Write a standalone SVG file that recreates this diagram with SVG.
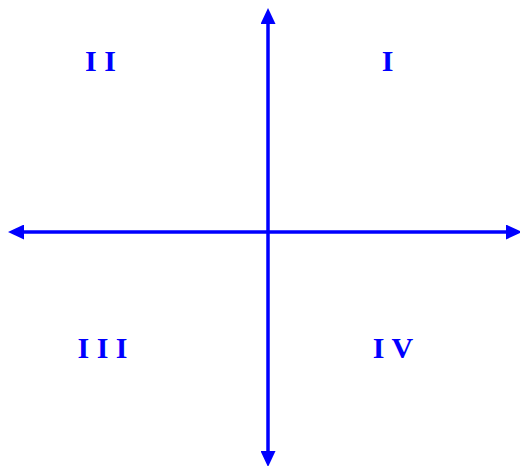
<svg xmlns="http://www.w3.org/2000/svg" width="520" height="466" viewBox="0 0 520 466">
<style>
.axis{stroke:#0000ff;stroke-width:3.5;fill:none}
.lbl{font-family:"Liberation Serif","Times New Roman",serif;font-weight:bold;font-size:30px;fill:#0000ff;text-anchor:middle}
</style>
<defs>
<marker id="ah" markerUnits="userSpaceOnUse" markerWidth="16" markerHeight="15" refX="1" refY="7.5" orient="auto-start-reverse" viewBox="0 0 16 15">
<path d="M0,0 L16,7.5 L0,15 z" fill="#0000ff"/>
</marker>
</defs>
<rect width="520" height="466" fill="#ffffff"/>
<g id="connectors">
<line id="x-axis" class="axis" x1="23" y1="232" x2="507" y2="232" marker-start="url(#ah)" marker-end="url(#ah)"/>
<line id="y-axis" class="axis" x1="268" y1="452" x2="268" y2="23" marker-start="url(#ah)" marker-end="url(#ah)"/>
</g>
<g id="q1"><text class="lbl" x="387.5" y="71">I</text></g>
<g id="q2"><text class="lbl" x="100.5" y="71">I I</text></g>
<g id="q3"><text class="lbl" x="102.5" y="358">I I I</text></g>
<g id="q4"><text class="lbl" x="393" y="358">I V</text></g>
</svg>
